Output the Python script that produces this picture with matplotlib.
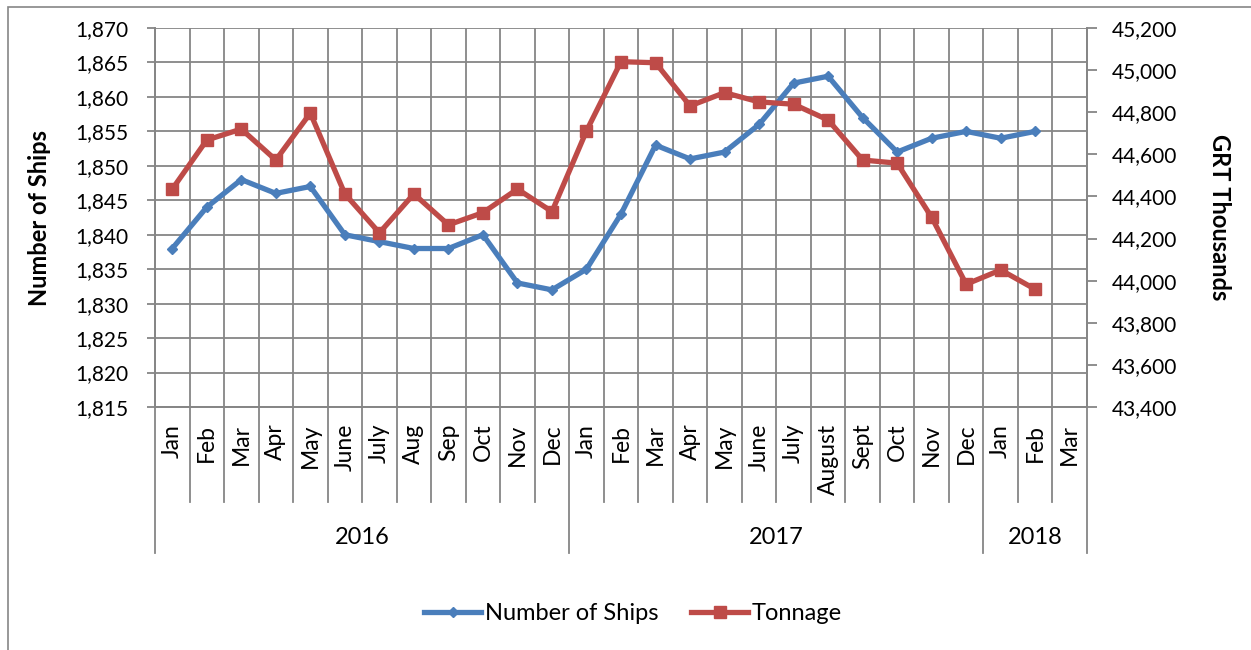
import numpy as np
import matplotlib.pyplot as plt
from matplotlib.lines import Line2D
from matplotlib.patches import Rectangle
from matplotlib.ticker import FuncFormatter, MultipleLocator

plt.rcParams['font.family'] = ['Lato', 'DejaVu Sans']

# data, Jan 2016 .. Mar 2018 (Mar 2018 has no values yet)
months = ['Jan', 'Feb', 'Mar', 'Apr', 'May', 'June', 'July', 'Aug', 'Sep', 'Oct', 'Nov', 'Dec',
          'Jan', 'Feb', 'Mar', 'Apr', 'May', 'June', 'July', 'August', 'Sept', 'Oct', 'Nov', 'Dec',
          'Jan', 'Feb', 'Mar']
years = ['2016', '2017', '2018']
year_lengths = [12, 12, 3]

ships = [1838, 1844, 1848, 1846, 1847, 1840, 1839, 1838, 1838, 1840, 1833, 1832,
         1835, 1843, 1853, 1851, 1852, 1856, 1862, 1863, 1857, 1852, 1854, 1855,
         1854, 1855]
tonnage = [44435, 44668, 44720, 44573, 44796, 44412, 44227, 44412, 44265, 44323, 44435, 44328,
           44711, 45040, 45035, 44830, 44893, 44849, 44838, 44763, 44573, 44558, 44301, 43983,
           44051, 43959]

blue = '#4A7EBB'
red = '#BE4B48'
grid_c = '#868686'

fig = plt.figure(figsize=(12.51, 6.5), dpi=100)
W, H = 1251, 650
ax = fig.add_axes([155 / W, 1 - 407 / H, (1087 - 155) / W, (407 - 28) / H])
ax2 = ax.twinx()

# outer chart border
fig.patches.append(Rectangle((8 / W, -0.1), 1.2, 1 - 7 / H + 0.1, transform=fig.transFigure,
                             fill=False, ec=grid_c, lw=1.2))

n = len(months)
x = np.arange(n)
ax.plot(x[:len(ships)], ships, color=blue, lw=3.8, marker='D', ms=5, zorder=3,
        solid_joinstyle='round', label='Number of Ships')
ax2.plot(x[:len(tonnage)], tonnage, color=red, lw=3.8, marker='s', ms=9, zorder=3,
         solid_joinstyle='round', label='Tonnage')

ax.set_xlim(-0.5, n - 0.5)
ax.set_ylim(1815, 1870)
ax2.set_ylim(43400, 45200)
ax.yaxis.set_major_locator(MultipleLocator(5))
ax2.yaxis.set_major_locator(MultipleLocator(200))
fmt = FuncFormatter(lambda v, p: f'{v:,.0f}')
ax.yaxis.set_major_formatter(fmt)
ax2.yaxis.set_major_formatter(fmt)

# gridlines: horizontal on values, vertical between categories
ax.set_xticks(x)
ax.set_xticklabels(months, rotation=90, va='top', ha='center', fontsize=16.5)
ax.set_xticks(np.arange(n + 1) - 0.5, minor=True)
ax.grid(axis='y', color=grid_c, lw=1.3)
ax.grid(axis='x', which='minor', color=grid_c, lw=1.3)
ax.tick_params(axis='x', which='both', length=0, pad=12)
ax.tick_params(axis='y', length=6, width=1.3, color=grid_c, labelsize=15, pad=13)
ax2.tick_params(axis='y', length=7, width=1.3, color=grid_c, labelsize=15, pad=11)
ax.set_axisbelow(True)

for a in (ax, ax2):
    a.spines['top'].set_visible(False)
    for s in ('left', 'right', 'bottom'):
        a.spines[s].set_color(grid_c)
        a.spines[s].set_linewidth(1.3)

# category separators below the axis
tr = ax.get_xaxis_transform()
plot_h = 407 - 28
sep_low = -(502 - 407) / plot_h
year_low = -(553 - 407) / plot_h
year_y = -(537 - 407) / plot_h
year_edges = np.concatenate([[0], np.cumsum(year_lengths)]) - 0.5
for b in np.arange(n + 1) - 0.5:
    low = year_low if b in year_edges else sep_low
    ax.add_line(Line2D([b, b], [0, low], transform=tr, color=grid_c, lw=1.3, clip_on=False))
for i, yr in enumerate(years):
    mid = (year_edges[i] + year_edges[i + 1]) / 2
    ax.text(mid, year_y, yr, transform=tr, ha='center', va='center', fontsize=17)

ax.set_ylabel('Number of Ships', fontsize=17, fontweight='bold')
ax2.set_ylabel('GRT Thousands', fontsize=17, fontweight='bold', rotation=270)
plot_w = 1087 - 155
ax.yaxis.set_label_coords((40 - 155) / plot_w, 0.5)
ax2.yaxis.set_label_coords((1220 - 155) / plot_w, 0.5)
ax.yaxis.label.set_va('center')
ax2.yaxis.label.set_va('center')

h1, l1 = ax.get_legend_handles_labels()
h2, l2 = ax2.get_legend_handles_labels()
fig.legend(h1 + h2, l1 + l2, loc='center', bbox_to_anchor=(633 / W, 1 - 614 / H), ncol=2,
           frameon=False, fontsize=17, handlelength=2.4, handletextpad=0.15,
           columnspacing=1.4)

fig.savefig('out.png', dpi=100)
